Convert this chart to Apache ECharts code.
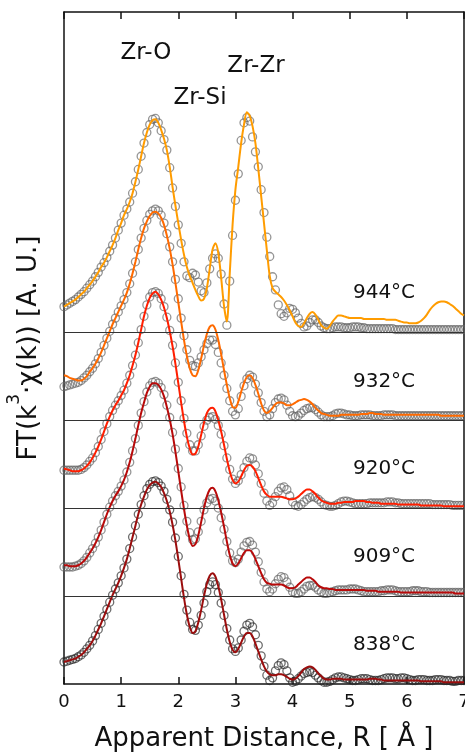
<!DOCTYPE html>
<html>
<head>
<meta charset="utf-8">
<title>FT EXAFS</title>
<script src="https://cdn.jsdelivr.net/npm/echarts@6/dist/echarts.min.js"></script>
<style>
html,body{margin:0;padding:0;background:#fff;}
#chart{width:465px;height:754px;}
</style>
</head>
<body>
<div id="chart"></div>
<script>
var step = 0.05; // R间隔 (Å)
var xTicks = [0,1,2,3,4,5,6,7];
var yMax = 7.64;
var temps = ['838°C','909°C','920°C','932°C','944°C'];
var offsets = [0,1,2,3,4];
var peakNames = ['Zr-O','Zr-Si','Zr-Zr'];

// 实验数据 (圆圈)
var data838 = [0.25,0.26,0.27,0.28,0.29,0.31,0.33,0.36,0.40,0.44,
 0.49,0.55,0.62,0.69,0.77,0.85,0.93,1.01,1.08,1.15,
 1.23,1.32,1.42,1.54,1.67,1.80,1.93,2.04,2.14,2.22,
 2.27,2.30,2.31,2.29,2.25,2.19,2.10,1.98,1.84,1.66,
 1.45,1.23,1.02,0.84,0.70,0.62,0.61,0.67,0.78,0.92,
 1.05,1.13,1.16,1.13,1.04,0.92,0.78,0.63,0.50,0.40,
 0.37,0.41,0.50,0.60,0.67,0.69,0.65,0.56,0.44,0.32,
 0.20,0.10,0.04,0.07,0.15,0.21,0.24,0.22,0.15,0.07,
 0.02,0.03,0.06,0.09,0.12,0.13,0.14,0.13,0.10,0.07,
 0.04,0.02,0.02,0.03,0.05,0.07,0.08,0.08,0.07,0.06,
 0.05,0.04,0.04,0.05,0.06,0.06,0.06,0.05,0.04,0.04,
 0.04,0.05,0.06,0.07,0.07,0.07,0.06,0.06,0.07,0.07,
 0.06,0.05,0.04,0.04,0.05,0.05,0.05,0.04,0.04,0.04,
 0.05,0.05,0.05,0.04,0.04,0.04,0.03,0.03,0.04,0.04,
 0.04];
var data909 = [0.33,0.33,0.33,0.33,0.34,0.35,0.37,0.40,0.44,0.49,
 0.54,0.60,0.67,0.75,0.84,0.93,1.01,1.08,1.14,1.19,
 1.25,1.32,1.41,1.52,1.65,1.79,1.94,2.08,2.21,2.32,
 2.39,2.43,2.44,2.42,2.37,2.29,2.17,2.03,1.86,1.67,
 1.45,1.24,1.03,0.85,0.72,0.64,0.65,0.73,0.85,0.98,
 1.06,1.10,1.11,1.08,1.00,0.89,0.76,0.62,0.49,0.40,
 0.38,0.42,0.50,0.57,0.61,0.62,0.58,0.50,0.39,0.27,
 0.16,0.08,0.05,0.08,0.14,0.19,0.22,0.21,0.16,0.10,
 0.05,0.03,0.03,0.05,0.08,0.11,0.12,0.12,0.10,0.07,
 0.05,0.03,0.03,0.04,0.05,0.06,0.07,0.07,0.07,0.07,
 0.08,0.08,0.08,0.07,0.06,0.05,0.05,0.05,0.05,0.05,
 0.05,0.06,0.06,0.07,0.07,0.07,0.06,0.05,0.05,0.05,
 0.05,0.05,0.06,0.06,0.06,0.05,0.05,0.05,0.04,0.04,
 0.04,0.04,0.04,0.04,0.04,0.04,0.04,0.04,0.04,0.04,
 0.04];
var data920 = [0.43,0.43,0.43,0.43,0.43,0.43,0.44,0.46,0.49,0.53,
 0.57,0.63,0.70,0.78,0.87,0.96,1.04,1.11,1.17,1.22,
 1.28,1.34,1.42,1.51,1.62,1.74,1.88,2.03,2.18,2.31,
 2.40,2.45,2.46,2.44,2.38,2.29,2.17,2.02,1.85,1.65,
 1.43,1.22,1.02,0.85,0.72,0.65,0.65,0.72,0.82,0.93,
 1.00,1.03,1.04,1.01,0.94,0.84,0.71,0.57,0.44,0.33,
 0.28,0.31,0.38,0.46,0.53,0.57,0.56,0.49,0.39,0.28,
 0.17,0.08,0.03,0.06,0.13,0.19,0.23,0.24,0.21,0.14,
 0.07,0.03,0.02,0.04,0.07,0.10,0.12,0.13,0.12,0.10,
 0.07,0.04,0.03,0.02,0.02,0.03,0.05,0.07,0.08,0.08,
 0.07,0.06,0.05,0.05,0.05,0.05,0.05,0.06,0.06,0.06,
 0.06,0.06,0.06,0.07,0.07,0.07,0.06,0.06,0.05,0.05,
 0.05,0.05,0.05,0.05,0.05,0.05,0.05,0.05,0.05,0.04,
 0.04,0.04,0.04,0.04,0.04,0.04,0.03,0.03,0.03,0.03,
 0.03];
var data932 = [0.38,0.39,0.40,0.41,0.42,0.43,0.45,0.48,0.51,0.55,
 0.59,0.64,0.70,0.77,0.85,0.93,1.01,1.09,1.16,1.23,
 1.30,1.37,1.45,1.55,1.67,1.80,1.94,2.07,2.18,2.27,
 2.34,2.38,2.40,2.38,2.33,2.24,2.12,1.97,1.80,1.60,
 1.38,1.16,0.96,0.80,0.68,0.62,0.61,0.65,0.72,0.80,
 0.87,0.91,0.91,0.86,0.77,0.65,0.51,0.36,0.22,0.10,
 0.06,0.13,0.27,0.39,0.47,0.51,0.49,0.41,0.31,0.20,
 0.10,0.04,0.06,0.13,0.20,0.24,0.25,0.23,0.17,0.10,
 0.05,0.04,0.05,0.08,0.11,0.13,0.14,0.14,0.12,0.09,
 0.06,0.04,0.04,0.04,0.05,0.07,0.08,0.08,0.07,0.06,
 0.06,0.05,0.05,0.05,0.06,0.06,0.06,0.06,0.05,0.05,
 0.05,0.05,0.06,0.06,0.06,0.06,0.05,0.05,0.05,0.05,
 0.05,0.05,0.05,0.05,0.05,0.05,0.05,0.05,0.05,0.05,
 0.05,0.05,0.05,0.05,0.05,0.05,0.05,0.05,0.05,0.05,
 0.05];
var data944 = [0.29,0.31,0.33,0.35,0.37,0.40,0.43,0.46,0.50,0.54,
 0.58,0.63,0.68,0.74,0.79,0.85,0.92,0.99,1.07,1.16,
 1.24,1.33,1.40,1.48,1.58,1.71,1.85,2.00,2.15,2.27,
 2.36,2.42,2.43,2.38,2.29,2.19,2.07,1.87,1.64,1.43,
 1.22,1.01,0.80,0.64,0.62,0.67,0.65,0.57,0.47,0.45,
 0.56,0.72,0.84,0.89,0.84,0.66,0.32,0.08,0.58,1.10,
 1.50,1.80,2.18,2.38,2.44,2.40,2.22,2.05,1.88,1.62,
 1.36,1.08,0.86,0.63,0.48,0.31,0.21,0.18,0.22,0.27,
 0.26,0.22,0.16,0.10,0.06,0.07,0.11,0.14,0.14,0.11,
 0.07,0.05,0.04,0.04,0.05,0.06,0.06,0.06,0.05,0.05,
 0.05,0.06,0.06,0.06,0.05,0.05,0.04,0.04,0.04,0.04,
 0.04,0.04,0.04,0.04,0.04,0.04,0.03,0.03,0.03,0.03,
 0.03,0.03,0.03,0.03,0.03,0.03,0.03,0.03,0.03,0.03,
 0.03,0.03,0.03,0.03,0.03,0.03,0.03,0.03,0.03,0.03,
 0.03];

// 拟合曲线 (实线)
var fit838 = [0.25,0.26,0.27,0.28,0.29,0.31,0.33,0.36,0.40,0.44,
 0.49,0.55,0.62,0.69,0.77,0.85,0.93,1.01,1.08,1.15,
 1.23,1.32,1.42,1.54,1.67,1.80,1.93,2.04,2.13,2.21,
 2.26,2.29,2.30,2.28,2.24,2.17,2.08,1.96,1.81,1.63,
 1.42,1.20,0.98,0.79,0.65,0.58,0.60,0.70,0.84,1.00,
 1.14,1.23,1.26,1.22,1.11,0.96,0.79,0.62,0.48,0.39,
 0.36,0.40,0.47,0.54,0.58,0.58,0.54,0.46,0.37,0.28,
 0.20,0.14,0.11,0.10,0.10,0.11,0.11,0.10,0.08,0.06,
 0.05,0.06,0.09,0.13,0.17,0.19,0.20,0.19,0.16,0.12,
 0.09,0.06,0.05,0.05,0.06,0.06,0.06,0.06,0.05,0.05,
 0.05,0.05,0.05,0.05,0.05,0.05,0.05,0.06,0.06,0.06,
 0.05,0.05,0.04,0.04,0.04,0.04,0.04,0.04,0.04,0.04,
 0.04,0.04,0.04,0.04,0.04,0.03,0.03,0.03,0.03,0.03,
 0.03,0.03,0.03,0.02,0.02,0.02,0.02,0.02,0.02,0.02,
 0.02];
var fit909 = [0.35,0.35,0.34,0.34,0.34,0.35,0.37,0.40,0.44,0.49,
 0.54,0.60,0.67,0.75,0.84,0.93,1.01,1.08,1.14,1.19,
 1.25,1.32,1.41,1.52,1.65,1.79,1.94,2.08,2.20,2.31,
 2.38,2.42,2.42,2.40,2.35,2.27,2.15,2.01,1.84,1.64,
 1.42,1.20,0.99,0.80,0.65,0.57,0.59,0.69,0.84,1.00,
 1.13,1.21,1.23,1.19,1.09,0.95,0.79,0.62,0.47,0.37,
 0.34,0.37,0.43,0.49,0.52,0.52,0.49,0.42,0.34,0.26,
 0.19,0.15,0.14,0.13,0.13,0.13,0.13,0.12,0.10,0.09,
 0.09,0.10,0.13,0.16,0.19,0.21,0.21,0.19,0.16,0.12,
 0.10,0.09,0.09,0.08,0.08,0.07,0.07,0.07,0.07,0.07,
 0.07,0.07,0.07,0.07,0.07,0.07,0.06,0.06,0.06,0.06,
 0.05,0.05,0.05,0.05,0.05,0.05,0.05,0.05,0.04,0.04,
 0.04,0.04,0.04,0.04,0.04,0.04,0.04,0.04,0.04,0.04,
 0.04,0.04,0.04,0.04,0.04,0.04,0.04,0.03,0.03,0.03,
 0.03];
var fit920 = [0.45,0.44,0.43,0.42,0.42,0.42,0.43,0.45,0.48,0.52,
 0.57,0.63,0.70,0.78,0.87,0.96,1.04,1.11,1.17,1.22,
 1.28,1.34,1.42,1.51,1.62,1.74,1.88,2.03,2.18,2.30,
 2.39,2.44,2.46,2.43,2.37,2.28,2.16,2.01,1.84,1.64,
 1.42,1.20,0.99,0.81,0.68,0.61,0.62,0.70,0.83,0.97,
 1.08,1.13,1.14,1.10,1.00,0.87,0.72,0.56,0.42,0.32,
 0.28,0.30,0.36,0.43,0.48,0.49,0.47,0.42,0.34,0.26,
 0.19,0.15,0.13,0.13,0.13,0.13,0.13,0.12,0.11,0.10,
 0.10,0.11,0.13,0.16,0.19,0.21,0.21,0.19,0.16,0.12,
 0.09,0.07,0.06,0.05,0.05,0.05,0.06,0.06,0.07,0.07,
 0.07,0.07,0.08,0.08,0.08,0.08,0.07,0.07,0.06,0.06,
 0.06,0.05,0.05,0.05,0.05,0.05,0.05,0.04,0.04,0.04,
 0.04,0.04,0.04,0.04,0.04,0.03,0.03,0.03,0.03,0.03,
 0.03,0.03,0.03,0.02,0.02,0.02,0.02,0.02,0.02,0.02,
 0.02];
var fit932 = [0.51,0.50,0.48,0.47,0.46,0.45,0.45,0.47,0.50,0.55,
 0.59,0.64,0.70,0.77,0.85,0.93,1.01,1.09,1.16,1.23,
 1.30,1.37,1.45,1.55,1.67,1.80,1.94,2.07,2.18,2.26,
 2.32,2.36,2.37,2.35,2.30,2.22,2.10,1.95,1.77,1.56,
 1.34,1.12,0.91,0.73,0.59,0.51,0.50,0.57,0.70,0.85,
 0.98,1.06,1.08,1.03,0.91,0.75,0.57,0.40,0.25,0.15,
 0.14,0.21,0.32,0.42,0.49,0.51,0.48,0.40,0.30,0.19,
 0.11,0.08,0.10,0.14,0.18,0.20,0.20,0.19,0.17,0.17,
 0.18,0.20,0.22,0.23,0.24,0.23,0.21,0.18,0.14,0.11,
 0.08,0.07,0.06,0.05,0.05,0.05,0.05,0.06,0.06,0.06,
 0.06,0.06,0.06,0.06,0.07,0.07,0.07,0.08,0.08,0.07,
 0.07,0.07,0.06,0.06,0.06,0.06,0.06,0.06,0.06,0.06,
 0.06,0.06,0.06,0.06,0.06,0.06,0.06,0.06,0.06,0.06,
 0.06,0.06,0.05,0.05,0.05,0.05,0.05,0.05,0.05,0.05,
 0.05];
var fit944 = [0.29,0.31,0.33,0.35,0.37,0.40,0.43,0.46,0.50,0.54,
 0.58,0.63,0.68,0.74,0.79,0.85,0.92,0.99,1.07,1.16,
 1.24,1.33,1.40,1.48,1.58,1.71,1.85,2.00,2.15,2.27,
 2.36,2.41,2.42,2.38,2.30,2.20,2.07,1.88,1.65,1.44,
 1.24,1.05,0.88,0.74,0.64,0.56,0.48,0.41,0.36,0.38,
 0.50,0.72,0.94,1.01,0.90,0.62,0.30,0.12,0.66,1.22,
 1.62,1.88,2.15,2.36,2.50,2.46,2.34,2.15,1.86,1.55,
 1.24,0.93,0.64,0.50,0.46,0.43,0.40,0.36,0.31,0.25,
 0.18,0.11,0.07,0.06,0.10,0.16,0.21,0.23,0.20,0.14,
 0.08,0.05,0.04,0.07,0.12,0.16,0.19,0.19,0.18,0.17,
 0.16,0.16,0.16,0.16,0.16,0.15,0.15,0.15,0.15,0.15,
 0.15,0.15,0.15,0.14,0.14,0.14,0.14,0.13,0.12,0.11,
 0.11,0.10,0.10,0.10,0.11,0.13,0.16,0.20,0.25,0.29,
 0.32,0.34,0.35,0.35,0.34,0.32,0.30,0.27,0.24,0.21,
 0.19];

var dataSets = [data838, data909, data920, data932, data944];
var fitSets = [fit838, fit909, fit920, fit932, fit944];
var fitColors = ['#9b0d0d','#b80a0a','#ff1e00','#ff6a00','#ff9c00'];
var dotColors = ['rgba(40,40,40,0.85)','rgba(100,100,100,0.85)','rgba(100,100,100,0.85)','rgba(100,100,100,0.85)','rgba(100,100,100,0.85)'];
var FONT = 'DejaVu Sans';

// 加偏移量, 转成[R, y]
function toPoints(arr, off){
	var out = [];
	for(var i=0;i<arr.length;i++){
		out.push([+(i*step).toFixed(2), arr[i] + off]);
	}
	return out;
}

var series = [];
// 基线
series.push({
	type:'line',
	data:[],
	silent:true,
	markLine:{
		silent:true,
		symbol:'none',
		label:{show:false},
		lineStyle:{color:'#333',width:1,type:'solid'},
		data: offsets.slice(1).map(function(o){ return {yAxis:o}; })
	}
});
for(var t=0;t<temps.length;t++){
	series.push({
		name: temps[t] + ' data',
		type:'scatter',
		symbol:'circle',
		symbolSize:8,
		itemStyle:{color:'rgba(0,0,0,0)',borderColor:dotColors[t],borderWidth:1.3},
		data: toPoints(dataSets[t], offsets[t]),
		z:2
	});
}
for(var t=0;t<temps.length;t++){
	series.push({
		name: temps[t] + ' fit',
		type:'line',
		showSymbol:false,
		smooth:0.3,
		lineStyle:{color:fitColors[t],width:2},
		data: toPoints(fitSets[t], offsets[t]),
		z:3
	});
}

// 文字标注
var labelY = [645,557,469,382,293];
var graphics = [];
for(var t=0;t<temps.length;t++){
	graphics.push({type:'text',x:384,y:labelY[t],z:10,style:{text:temps[t],fontSize:20,fontFamily:FONT,fill:'#111',align:'center',verticalAlign:'middle',textAlign:'center',textVerticalAlign:'middle'}});
}
var peakPos = [[146,53],[200,98],[256,66]];
for(var p=0;p<peakNames.length;p++){
	graphics.push({type:'text',x:peakPos[p][0],y:peakPos[p][1],z:10,style:{text:peakNames[p],fontSize:23,fontFamily:FONT,fill:'#111',align:'center',verticalAlign:'middle',textAlign:'center',textVerticalAlign:'middle'}});
}

var myChart = echarts.init(document.getElementById('chart'));
var option = {
	animation:false,
	backgroundColor:'#fff',
	grid:{left:64,right:1,top:12,bottom:70,containLabel:false,outerBoundsMode:'none'},
	xAxis:[{
		type:'value',
		min:xTicks[0],
		max:xTicks[xTicks.length-1],
		interval:1,
		name:'Apparent Distance, R [ Å ]',
		nameLocation:'middle',
		nameGap:42,
		nameTextStyle:{fontSize:26,fontFamily:FONT,color:'#111'},
		axisLine:{onZero:false,lineStyle:{color:'#111',width:1.5}},
		axisTick:{inside:true,length:7,lineStyle:{color:'#111',width:1.5}},
		axisLabel:{fontSize:18,fontFamily:FONT,color:'#111',margin:9,hideOverlap:false},
		splitLine:{show:false}
	},{
		type:'value',
		position:'top',
		min:xTicks[0],
		max:xTicks[xTicks.length-1],
		interval:1,
		axisLine:{onZero:false,lineStyle:{color:'#111',width:1.5}},
		axisTick:{inside:true,length:7,lineStyle:{color:'#111',width:1.5}},
		axisLabel:{show:false},
		splitLine:{show:false}
	}],
	yAxis:[{
		type:'value',
		min:0,
		max:yMax,
		name:'{n|FT(k}{s|3}{n|·χ(k)) [A. U.]}',
		nameLocation:'middle',
		nameGap:22,
		nameTextStyle:{
			fontSize:26,fontFamily:FONT,color:'#111',
			rich:{
				n:{fontSize:26,fontFamily:FONT,color:'#111',lineHeight:36,verticalAlign:'bottom'},
				s:{fontSize:17,fontFamily:FONT,color:'#111',lineHeight:36,verticalAlign:'top'}
			}
		},
		axisLine:{show:true,onZero:false,lineStyle:{color:'#111',width:1.5}},
		axisTick:{show:false},
		axisLabel:{show:false},
		splitLine:{show:false}
	},{
		type:'value',
		position:'right',
		min:0,
		max:yMax,
		axisLine:{show:true,onZero:false,lineStyle:{color:'#111',width:1.5}},
		axisTick:{show:false},
		axisLabel:{show:false},
		splitLine:{show:false}
	}],
	graphic:graphics,
	series:series
};
myChart.setOption(option);
</script>
</body>
</html>
